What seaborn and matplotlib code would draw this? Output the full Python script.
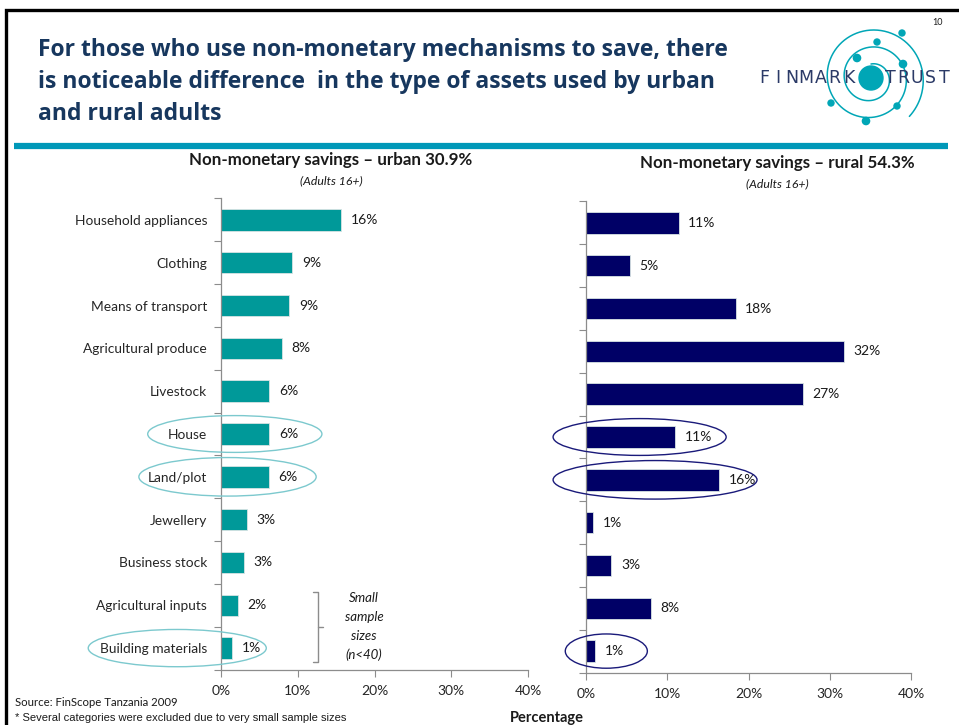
import numpy as np
import pandas as pd
import matplotlib
matplotlib.use("Agg")
import matplotlib.pyplot as plt
import seaborn as sns
from matplotlib.patches import Ellipse, Circle
from matplotlib.lines import Line2D

# ---- data -------------------------------------------------------------
categories = ["Household appliances", "Clothing", "Means of transport",
              "Agricultural produce", "Livestock", "House", "Land/plot",
              "Jewellery", "Business stock", "Agricultural inputs",
              "Building materials"]
urban = [15.7, 9.3, 8.9, 7.9, 6.3, 6.3, 6.2, 3.4, 3.0, 2.2, 1.4]
rural = [11.4, 5.4, 18.4, 31.7, 26.7, 11.0, 16.4, 0.9, 3.1, 8.0, 1.1]
x_ticks = [0, 10, 20, 30, 40]
x_tick_labels = ["0%", "10%", "20%", "30%", "40%"]
urban_title = "Non-monetary savings \u2013 urban 30.9%"
rural_title = "Non-monetary savings \u2013 rural 54.3%"

TEAL = "#009999"
NAVY = "#000066"
TITLE_BLUE = "#17375E"
GREY = "#8c8c8c"

sns.set_theme(style="white")
plt.rcParams["font.family"] = ["Lato", "DejaVu Sans"]
plt.rcParams["text.color"] = "#1a1a1a"

W, H = 959, 725
fig = plt.figure(figsize=(W / 100, H / 100), dpi=100)

# pixel-space overlay for slide decoration
deco = fig.add_axes([0, 0, 1, 1], zorder=0)
deco.set_xlim(0, W)
deco.set_ylim(H, 0)
deco.axis("off")

# slide frame
deco.add_line(Line2D([6, 6, W], [H, 10, 10], color="black", lw=2.4,
                     solid_joinstyle="miter"))
deco.text(938, 22, "10", fontsize=6.5, ha="center", va="center")

# headline
title_lines = ["For those who use non-monetary mechanisms to save, there",
               "is noticeable difference  in the type of assets used by urban",
               "and rural adults"]
for i, line in enumerate(title_lines):
    deco.text(38, 50 + 32 * i, line, fontsize=16.5, fontweight="bold",
              color=TITLE_BLUE, ha="left", va="center", family="Open Sans")

# teal rule under the headline
deco.add_line(Line2D([14, 948], [145.5, 145.5], color="#0098B8", lw=4.5,
                     solid_capstyle="butt"))

# logo: spiral with planets
LOGO = "#00A6B6"
cx, cy = 871, 78
phi = np.linspace(0, 4.75 * np.pi, 800)
r = 14 + 2.7 * phi
theta = np.pi / 2 - phi
deco.plot(cx + r * np.cos(theta), cy - r * np.sin(theta), color=LOGO, lw=1.1)
deco.add_patch(Circle((cx, cy), 12, color=LOGO, zorder=3))
for (dx, dy, rad) in [(902, 33, 3), (877, 42, 3), (857, 58, 3.6),
                      (903, 64, 3.6), (831, 103, 3), (897, 106, 3),
                      (866, 121, 3.6)]:
    deco.add_patch(Circle((dx, dy), rad, color=LOGO, zorder=3))
for k, ch in enumerate("FINMARK"):
    deco.text(764 + 14.1 * k, 78, ch, fontsize=12.5, color="#2B3A67",
              ha="center", va="center", family="DejaVu Sans")
for k, ch in enumerate("TRUST"):
    deco.text(890 + 13.6 * k, 78, ch, fontsize=12.5, color="#2B3A67",
              ha="center", va="center", family="DejaVu Sans")

# panel headings
deco.text(331, 160, urban_title, fontsize=12.2, fontweight="bold",
          ha="center", va="center")
deco.text(331, 181, "(Adults 16+)", fontsize=8.8, style="italic",
          ha="center", va="center")
deco.text(777, 163, rural_title, fontsize=12.2, fontweight="bold",
          ha="center", va="center")
deco.text(777, 184, "(Adults 16+)", fontsize=8.8, style="italic",
          ha="center", va="center")

# bracket marking small samples
deco.add_line(Line2D([313, 318, 318, 313], [592, 592, 662, 662],
                     color=GREY, lw=1))
deco.add_line(Line2D([318, 323], [627, 627], color=GREY, lw=1))
for i, line in enumerate(["Small", "sample", "sizes", "(n<40)"]):
    deco.text(364, 598 + 19 * i, line, fontsize=9.5, style="italic",
              ha="center", va="center")

# footnotes
deco.text(15, 703, "Source: FinScope Tanzania 2009", fontsize=8.2,
          ha="left", va="center")
deco.text(15, 718, "* Several categories were excluded due to very small sample sizes",
          fontsize=8, ha="left", va="center", family="Liberation Sans")
deco.text(510, 718, "Percentage", fontsize=10.5, fontweight="bold",
          ha="left", va="center")

# ---- bar panels ---------------------------------------------------------
axL = fig.add_axes([221 / W, 1 - 669.5 / H, 307 / W, 471 / H], zorder=2)
axR = fig.add_axes([586 / W, 1 - 672.5 / H, 325 / W, 471 / H], zorder=2)

df = pd.DataFrame({"category": categories, "urban": urban, "rural": rural})

panels = [
    (axL, "urban", TEAL, "#7CC9CE",
     {"House": (1.8, 22.7, 0.86), "Land/plot": (0.85, 23.1, 0.9),
      "Building materials": (-5.7, 23.2, 0.87)}),
    (axR, "rural", NAVY, "#1a1a7a",
     {"House": (6.6, 21.3, 0.86), "Land/plot": (8.5, 25.1, 0.9),
      "Building materials": (2.5, 10.1, 0.8)}),
]

for ax, col, color, ring, rings in panels:
    ax.set_facecolor("none")
    sns.barplot(data=df, x=col, y="category", orient="h", color=color,
                saturation=1, width=0.5, edgecolor="#d8e4e4", linewidth=0.6,
                ax=ax)
    ax.bar_label(ax.containers[0],
                 labels=[f"{round(v)}%" for v in df[col]],
                 padding=7, fontsize=10, color="#1a1a1a")
    ax.set_xlim(0, 40)
    ax.set_ylim(len(categories) - 0.5, -0.5)
    ax.set_xticks(x_ticks)
    ax.set_xticklabels(x_tick_labels, fontsize=10)
    ax.set_xlabel("")
    ax.set_ylabel("")
    ax.set_yticks(np.arange(-0.5, len(categories), 1.0), minor=True)
    ax.tick_params(axis="x", bottom=True, length=5, width=0.8, color=GREY,
                   pad=6, direction="out")
    ax.tick_params(axis="y", which="major", left=False, length=0, pad=10,
                   labelsize=9.9)
    ax.tick_params(axis="y", which="minor", left=True, length=5, width=0.8,
                   color=GREY, direction="out")
    for side in ("top", "right"):
        ax.spines[side].set_visible(False)
    for side in ("left", "bottom"):
        ax.spines[side].set_color(GREY)
        ax.spines[side].set_linewidth(0.9)
    for name, (xc, w, h) in rings.items():
        yi = categories.index(name)
        ax.add_patch(Ellipse((xc, yi), w, h, fill=False, edgecolor=ring,
                             lw=1.0, clip_on=False, zorder=5))

axR.set_yticklabels([])

fig.savefig("out.png", dpi=100)
